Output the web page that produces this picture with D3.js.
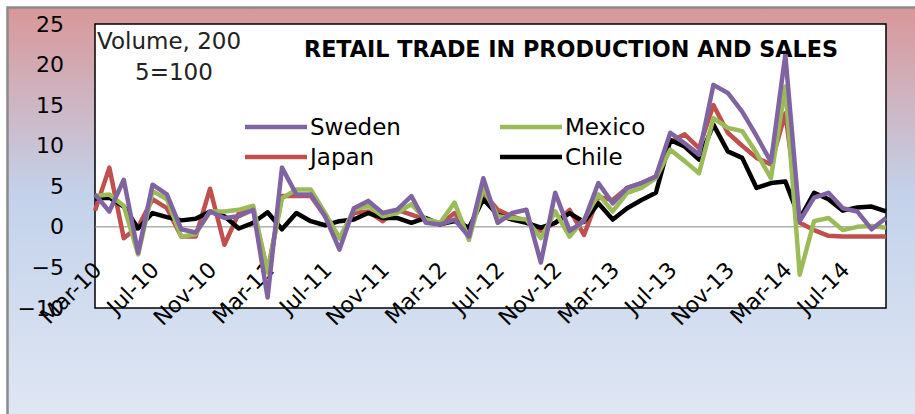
<!DOCTYPE html>
<html>
<head>
<meta charset="utf-8">
<script src="https://cdn.jsdelivr.net/npm/d3@7"></script>
<style>
  body { margin: 0; background: #fff; }
  svg { display: block; font-family: "DejaVu Sans", sans-serif; }
</style>
</head>
<body>
<script>
//-----------------Data----------------

const months = [
  "Mar-10","Apr-10","May-10","Jun-10","Jul-10","Aug-10","Sep-10","Oct-10","Nov-10","Dec-10",
  "Jan-11","Feb-11","Mar-11","Apr-11","May-11","Jun-11","Jul-11","Aug-11","Sep-11","Oct-11","Nov-11","Dec-11",
  "Jan-12","Feb-12","Mar-12","Apr-12","May-12","Jun-12","Jul-12","Aug-12","Sep-12","Oct-12","Nov-12","Dec-12",
  "Jan-13","Feb-13","Mar-13","Apr-13","May-13","Jun-13","Jul-13","Aug-13","Sep-13","Oct-13","Nov-13","Dec-13",
  "Jan-14","Feb-14","Mar-14","Apr-14","May-14","Jun-14","Jul-14","Aug-14","Sep-14","Oct-14"
];

const sweden = [4.0, 1.9, 5.8, -3.2, 5.2, 4.0, -0.3, -0.7, 1.9, 1.1,
  1.3, 2.1, -8.7, 7.3, 4.0, 4.0, 1.3, -2.8, 2.3, 3.2, 1.7, 2.1,
  3.8, 0.5, 0.3, 0.9, -1.2, 6.0, 0.5, 1.7, 2.1, -4.4, 4.2, -0.5,
  0.7, 5.4, 2.9, 4.8, 5.4, 6.2, 11.6, 10.3, 8.9, 17.5, 16.5, 14.2,
  11.2, 8.0, 21.2, 0.7, 3.6, 4.2, 2.3, 1.9, -0.3, 1.1];

const mexico = [3.8, 4.0, 2.6, -3.4, 4.4, 3.4, -1.2, -0.9, 1.9, 1.9,
  2.1, 2.6, -5.6, 3.5, 4.6, 4.6, 1.7, -1.4, 2.1, 2.6, 1.3, 1.7,
  2.8, 0.9, 0.5, 3.0, -1.6, 4.8, 1.3, 1.1, 0.9, -1.4, 1.9, -1.2,
  0.9, 4.0, 1.9, 4.2, 4.8, 6.0, 9.5, 8.1, 6.6, 13.4, 12.2, 11.8,
  9.1, 6.0, 17.3, -5.9, 0.7, 1.1, -0.4, 0.0, 0.1, -0.1];

const japan = [2.0, 7.3, -1.4, 0.0, 3.4, 2.3, -1.2, -1.2, 4.7, -2.2,
  1.7, 2.1, -5.5, 3.8, 3.8, 3.8, 1.3, -1.4, 1.7, 1.9, 0.7, 2.1,
  1.5, 0.9, 0.3, 1.7, -0.5, 4.2, 2.1, 1.3, 0.7, -0.5, 0.5, 2.1,
  -1.0, 3.7, 3.3, 4.8, 5.4, 6.2, 10.5, 11.4, 9.7, 15.0, 11.6, 10.0,
  8.5, 7.7, 14.0, 0.5, -0.4, -1.1, -1.2, -1.2, -1.2, -1.2];

const chile = [3.5, 3.6, 2.5, -0.2, 1.7, 1.2, 0.8, 1.0, 1.9, 1.3,
  -0.2, 0.5, 1.8, -0.3, 1.7, 0.7, 0.2, 0.7, 0.9, 1.7, 1.1, 1.1,
  0.5, 1.1, 0.3, 0.7, -0.1, 3.4, 1.5, 0.9, 0.5, -0.1, 0.5, 1.7,
  0.6, 2.9, 0.9, 2.3, 3.3, 4.2, 10.7, 9.9, 8.3, 12.6, 9.3, 8.5,
  4.8, 5.4, 5.6, 1.0, 4.2, 3.4, 2.0, 2.4, 2.5, 1.9];

const yTicks = [-10, -5, 0, 5, 10, 15, 20, 25];
const xTicks = months.filter((m, i) => i % 4 === 0);

//-----------------Svg + background----------------

const width = 915;
const height = 414;
const plot = { left: 95, top: 24, right: 886, bottom: 308 };

const svg = d3.select("body").append("svg").attr("width", width).attr("height", height);

const grad = svg.append("defs").append("linearGradient")
  .attr("id", "bg").attr("x1", 0).attr("y1", 0).attr("x2", 0).attr("y2", 1);
grad.append("stop").attr("offset", "0%").attr("stop-color", "#d99798");
grad.append("stop").attr("offset", "45%").attr("stop-color", "#c3d2ea");
grad.append("stop").attr("offset", "100%").attr("stop-color", "#e0e7f4");

svg.append("rect")
  .attr("x", 7.5).attr("y", 7.5)
  .attr("width", width).attr("height", height)
  .attr("fill", "url(#bg)")
  .attr("stroke", "#8a8a8a").attr("stroke-width", 2.5);

svg.append("rect")
  .attr("x", plot.left).attr("y", plot.top)
  .attr("width", plot.right - plot.left).attr("height", plot.bottom - plot.top)
  .attr("fill", "#fff").attr("stroke", "#000").attr("stroke-width", 1.5);

//-----------------Scales----------------

const xScale = d3.scalePoint().domain(months).range([plot.left, plot.right]);
const yScale = d3.scaleLinear().domain([-10, 25]).range([plot.bottom, plot.top]);

svg.append("line")
  .attr("x1", plot.left).attr("x2", plot.right)
  .attr("y1", yScale(0)).attr("y2", yScale(0))
  .attr("stroke", "#868686").attr("stroke-width", 1);

//-----------------Axes----------------

const yAxis = d3.axisLeft(yScale).tickValues(yTicks).tickSize(0).tickPadding(31);
svg.append("g")
  .attr("transform", "translate(" + plot.left + ",0)")
  .call(yAxis)
  .call((g) => g.select(".domain").remove())
  .selectAll("text")
  .style("font-size", "22px").style("font-family", "DejaVu Sans").attr("fill", "#000");

const xAxis = d3.axisBottom(xScale).tickValues(xTicks).tickSize(0);
svg.append("g")
  .attr("transform", "translate(0,266)")
  .call(xAxis)
  .call((g) => g.select(".domain").remove())
  .selectAll("text")
  .attr("x", 0).attr("y", 0).attr("dy", "0.35em")
  .attr("transform", "translate(2,0) rotate(-45)")
  .style("text-anchor", "end")
  .style("font-size", "22px").style("font-family", "DejaVu Sans").attr("fill", "#000");

//-----------------Lines----------------

const series = [
  { name: "Japan", values: japan, color: "#c0504d" },
  { name: "Chile", values: chile, color: "#000000" },
  { name: "Mexico", values: mexico, color: "#9bbb59" },
  { name: "Sweden", values: sweden, color: "#8064a2" }
];

const line = d3.line().x((d, i) => xScale(months[i])).y((d) => yScale(d));

svg.selectAll(".series")
  .data(series)
  .enter()
  .append("path")
  .attr("class", "series")
  .attr("d", (s) => line(s.values))
  .attr("fill", "none")
  .attr("stroke", (s) => s.color)
  .attr("stroke-width", 4.5)
  .attr("stroke-linejoin", "round");

//-----------------Texts + legend----------------

svg.append("text")
  .attr("x", 304).attr("y", 57)
  .attr("textLength", 534).attr("lengthAdjust", "spacingAndGlyphs")
  .style("font-size", "23px").style("font-weight", "bold")
  .text("RETAIL TRADE IN PRODUCTION AND SALES");

svg.append("text").attr("x", 97).attr("y", 49).style("font-size", "23px").attr("fill", "#222").text("Volume, 200");
svg.append("text").attr("x", 135).attr("y", 80).style("font-size", "23px").attr("fill", "#222").text("5=100");

const legendItems = [
  { name: "Sweden", color: "#8064a2", x: 245, y: 127 },
  { name: "Mexico", color: "#9bbb59", x: 500, y: 127 },
  { name: "Japan", color: "#c0504d", x: 245, y: 157 },
  { name: "Chile", color: "#000000", x: 500, y: 157 }
];

const legend = svg.append("g").attr("id", "legend");
legendItems.forEach((d) => {
  legend.append("line")
    .attr("x1", d.x).attr("x2", d.x + 62)
    .attr("y1", d.y).attr("y2", d.y)
    .attr("stroke", d.color).attr("stroke-width", 4.5);
  legend.append("text")
    .attr("x", d.x + 65).attr("y", d.y).attr("dy", "0.35em")
    .style("font-size", "23px")
    .text(d.name);
});
</script>
</body>
</html>
